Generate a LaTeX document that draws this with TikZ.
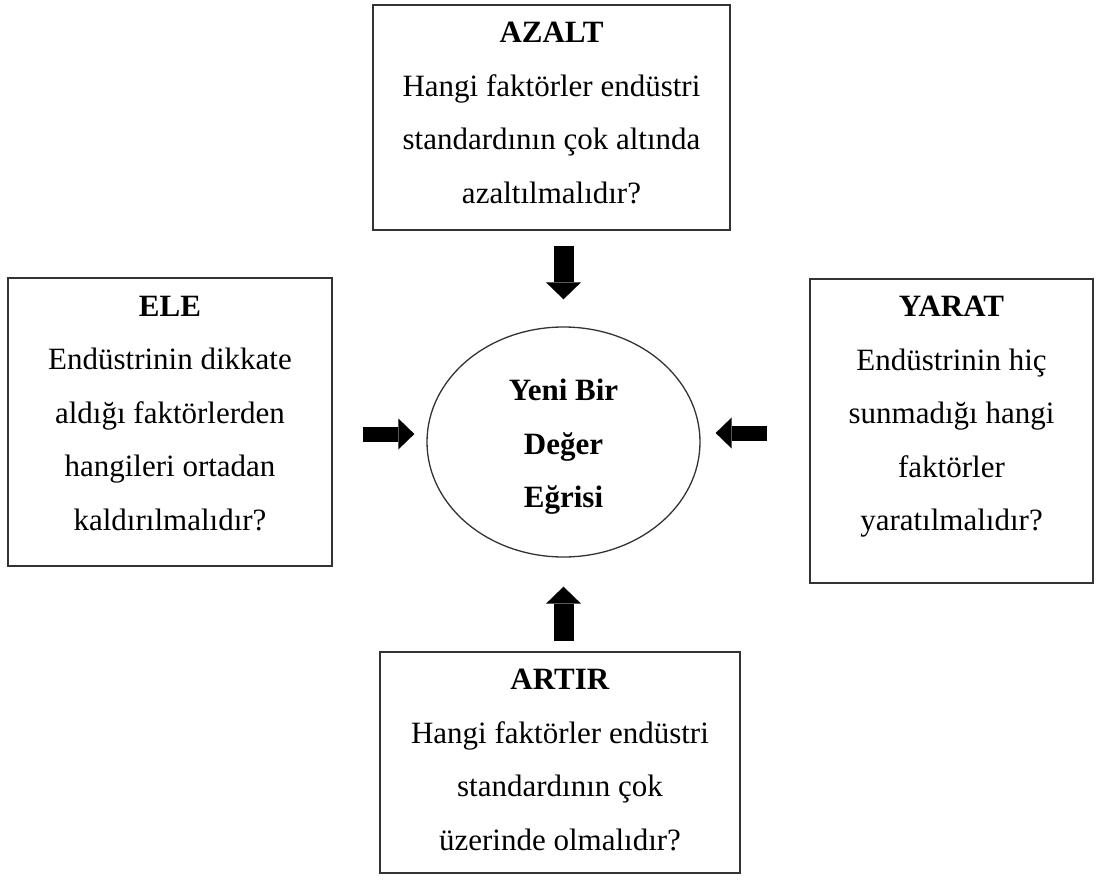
\documentclass[tikz,border=0pt]{standalone}
\usepackage{fontspec}
\setmainfont{Liberation Serif}
\usetikzlibrary{arrows.meta,calc,shapes.geometric}

\begin{document}
\begin{tikzpicture}[x=1pt,y=-1pt,
  box/.style={draw=black!80, line width=1.3pt, rectangle, inner sep=0pt},
  txt/.style={align=center, inner sep=0pt, anchor=north, font=\fontsize{31}{53.5}\selectfont},
  vblk/.style={line width=20pt, -{Triangle[width=35pt,length=17pt,line width=0pt]}},
  hblk/.style={line width=15pt, -{Triangle[width=31pt,length=16pt,line width=0pt]}},
]
\useasboundingbox (0,0) rectangle (1103,885);

% the four question boxes
\node[box, minimum width=357pt, minimum height=225pt] (azalt) at (551.5,117.5) {};
\node[txt] (azaltT) at ([yshift=-17.5pt]azalt.north)
  {\textbf{AZALT}\\Hangi faktörler endüstri\\standardının çok altında\\azaltılmalıdır?};

\node[box, minimum width=324pt, minimum height=288pt] (ele) at (170,422) {};
\node[txt] (eleT) at ([yshift=-18.5pt]ele.north)
  {\textbf{ELE}\\Endüstrinin dikkate\\aldığı faktörlerden\\hangileri ortadan\\kaldırılmalıdır?};

\node[box, minimum width=283pt, minimum height=304pt] (yarat) at (951.5,431) {};
\node[txt] (yaratT) at ([yshift=-17.5pt]yarat.north)
  {\textbf{YARAT}\\Endüstrinin hiç\\sunmadığı hangi\\faktörler\\yaratılmalıdır?};

\node[box, minimum width=360pt, minimum height=221pt] (artir) at (560,762.5) {};
\node[txt] (artirT) at ([yshift=-17.5pt]artir.north)
  {\textbf{ARTIR}\\Hangi faktörler endüstri\\standardının çok\\üzerinde olmalıdır?};

% central ellipse and its label
\node[ellipse, draw=black!80, line width=1.3pt, minimum width=273pt, minimum height=230pt,
      inner sep=0pt] (ell) at (563.5,442) {};
\node[align=center, inner sep=0pt, font=\bfseries\fontsize{31}{53.5}\selectfont]
  (ellT) at ([yshift=-5pt]ell.center) {Yeni Bir\\Değer\\Eğrisi};

% block arrows pointing to the ellipse
\draw[vblk, shorten <=15pt, shorten >=27pt] (azalt.south -| ell.north) -- (ell.north);
\draw[vblk, shorten <=10pt, shorten >=29pt] (artir.north -| ell.south) -- (ell.south);
\draw[hblk, shorten <=30pt, shorten >=12pt] ($(ele.east |- ell.center)+(0,-8)$) -- ($(ell.west)+(0,-8)$);
\draw[hblk, shorten <=42pt, shorten >=15pt] ($(yarat.west |- ell.center)+(0,-9)$) -- ($(ell.east)+(0,-9)$);
\end{tikzpicture}
\end{document}
